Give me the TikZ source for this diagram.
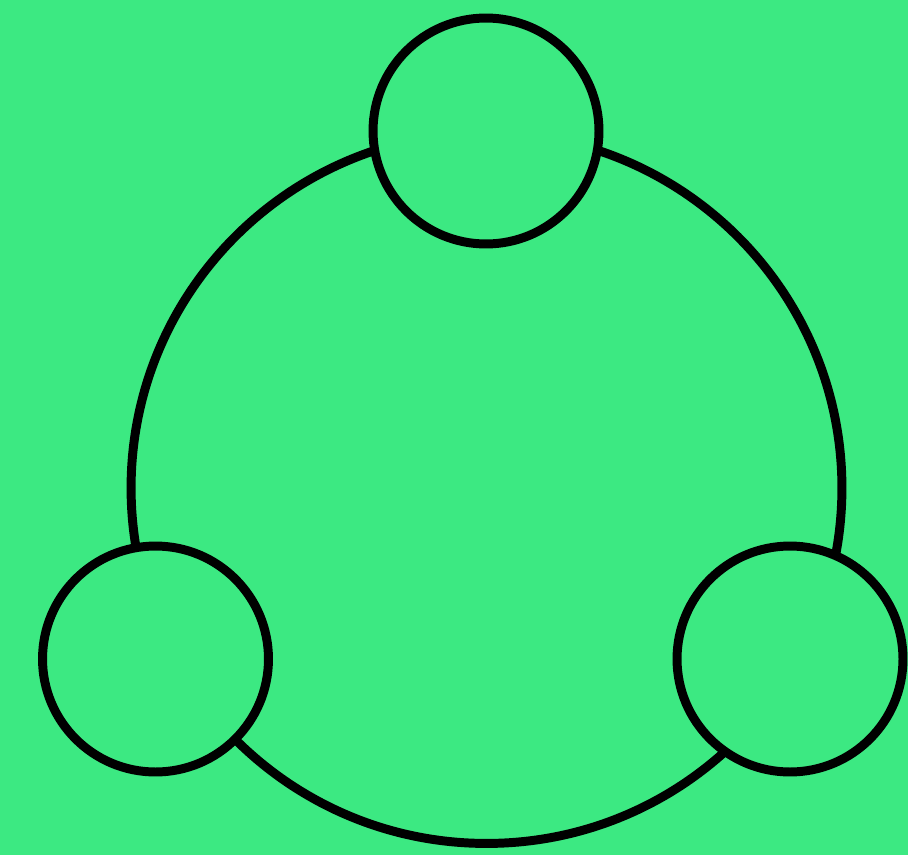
\documentclass[tikz,border=0pt]{standalone}
\usetikzlibrary{positioning}
\definecolor{ringgreen}{HTML}{3CE982}
\tikzset{
  ring/.style={circle, draw=black, line width=5.1pt, fill=ringgreen, inner sep=0pt},
  member/.style={ring, minimum size=4.52cm}
}
\begin{document}
\begin{tikzpicture}[x=0.02cm, y=-0.02cm]
  \fill[ringgreen] (0,0) rectangle (908,855);
  \useasboundingbox (0,0) rectangle (908,855);
  % the large ring
  \node[ring, minimum size=14.22cm] (hub) at (486.5,488) {};
  % the three circles sitting on it
  \node[member] (top) at (486,131) {};
  \node[member] (left) at (155.5,659) {};
  \node[member] (right) at (790,659) {};
\end{tikzpicture}
\end{document}
